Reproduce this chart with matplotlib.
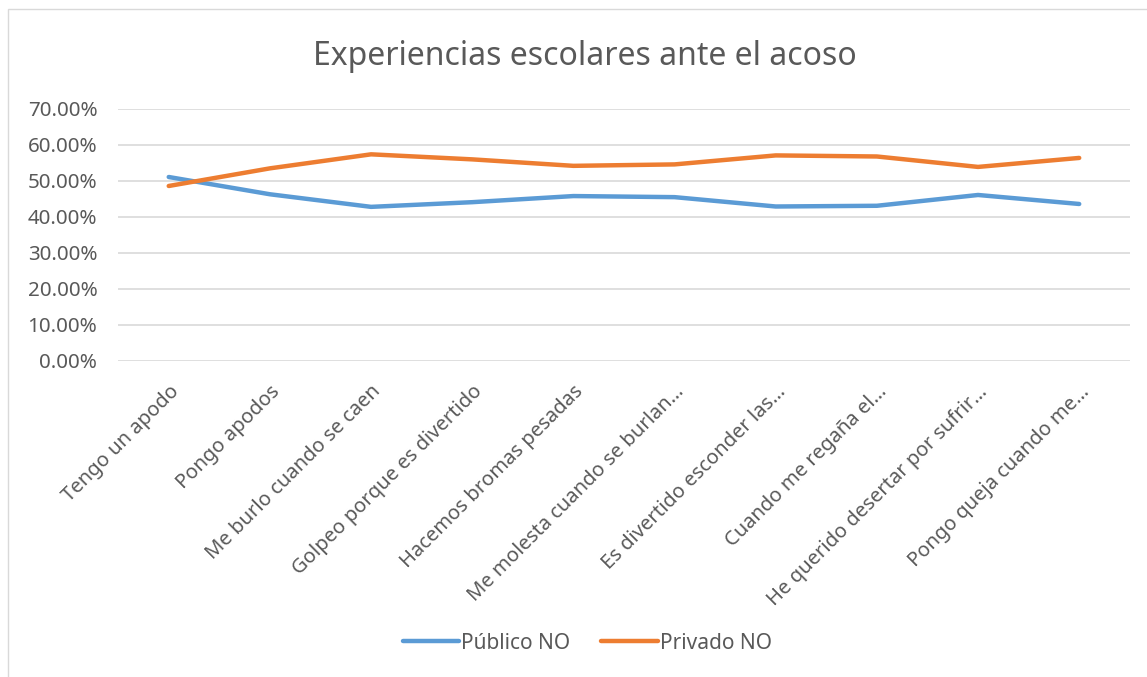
import matplotlib.pyplot as plt
from matplotlib.patches import Rectangle
from matplotlib.ticker import PercentFormatter

plt.rcParams['font.family'] = ['Noto Sans', 'DejaVu Sans']

# data
categories = ['Tengo un apodo', 'Pongo apodos', 'Me burlo cuando se caen',
              'Golpeo porque es divertido', 'Hacemos bromas pesadas',
              'Me molesta cuando se burlan…', 'Es divertido esconder las…',
              'Cuando me regaña el…', 'He querido desertar por sufrir…',
              'Pongo queja cuando me…']
publico_no = [51.1, 46.3, 42.8, 44.1, 45.8, 45.5, 42.9, 43.1, 46.1, 43.6]
privado_no = [48.6, 53.5, 57.4, 56.0, 54.2, 54.6, 57.1, 56.8, 53.9, 56.4]

blue = '#5b9bd5'
orange = '#ed7d31'
text_col = '#595959'

fig = plt.figure(figsize=(11.47, 6.77), dpi=100)
ax = fig.add_axes([0.103, 0.467, 0.882, 0.372])

x = list(range(len(categories)))
ax.plot(x, publico_no, color=blue, lw=3.2, solid_capstyle='round', label='Público NO')
ax.plot(x, privado_no, color=orange, lw=3.2, solid_capstyle='round', label='Privado NO')

ax.set_xlim(-0.5, len(categories) - 0.5)
ax.set_ylim(0, 70)
ax.set_yticks(range(0, 71, 10))
ax.yaxis.set_major_formatter(PercentFormatter(decimals=2))
ax.grid(axis='y', color='#d9d9d9', lw=1.2)
ax.set_axisbelow(True)
for s in ax.spines.values():
    s.set_visible(False)
ax.tick_params(axis='y', length=0, labelsize=14.8, colors=text_col, pad=15)
ax.tick_params(axis='x', length=0, labelsize=14.5, colors=text_col, pad=15)

ax.set_xticks(x)
ax.set_xticklabels(categories, rotation=45, ha='right', rotation_mode='anchor')

fig.text(0.51, 0.916, 'Experiencias escolares ante el acoso', ha='center', va='center',
         fontsize=23, color=text_col)

fig.legend(loc='center', bbox_to_anchor=(0.512, 0.05), ncol=2, frameon=False,
           fontsize=15, labelcolor=text_col, handlelength=2.7, handletextpad=0.1,
           columnspacing=1.5)

# light chart border
fig.patches.append(Rectangle((0.007, -0.01), 1.0, 0.996, transform=fig.transFigure,
                             fill=False, edgecolor='#d9d9d9', lw=1))

fig.savefig('out.png', dpi=100)
